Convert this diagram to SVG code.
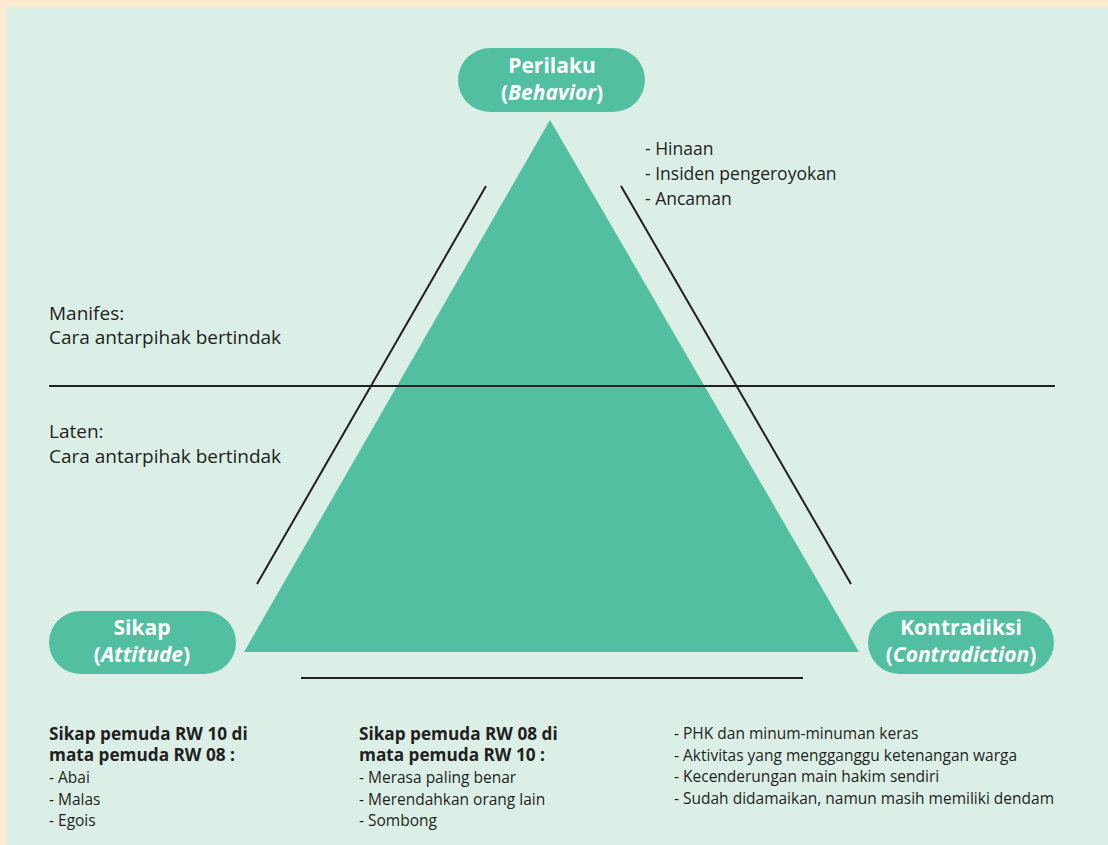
<svg xmlns="http://www.w3.org/2000/svg" width="1108" height="845" viewBox="0 0 1108 845">
<style>
.pill{fill:#52C0A0}
.pt{font-family:"Open Sans","Noto Sans",sans-serif;font-weight:bold;font-size:21px;fill:#fff;text-anchor:middle}
.t{font-family:"Open Sans","Noto Sans",sans-serif;font-size:15.5px;fill:#231F20}
.tr{font-family:"Open Sans","Noto Sans",sans-serif;font-size:17.5px;fill:#231F20}
.tb{font-family:"Open Sans","Noto Sans",sans-serif;font-size:17.2px;font-weight:bold;fill:#231F20}
.big{font-family:"Open Sans","Noto Sans",sans-serif;font-size:19px;fill:#231F20}
.ln{stroke:#231F20;stroke-width:2;fill:none}
</style>
<rect x="0" y="0" width="1108" height="845" fill="#FFEBD1"/>
<rect x="6" y="7" width="1102" height="838" fill="#DBEFE6"/>
<polygon points="550,120 244,652 859,652" fill="#52C0A0"/>
<g id="connectors">
<line class="ln" x1="486" y1="186" x2="257" y2="584"/>
<line class="ln" x1="621" y1="186" x2="851" y2="584"/>
<line class="ln" x1="49" y1="386" x2="1055" y2="386"/>
<line class="ln" x1="301" y1="678" x2="803" y2="678"/>
</g>
<g id="perilaku">
<rect class="pill" x="458" y="48" width="187" height="64" rx="32"/>
<text class="pt" x="552" y="73">Perilaku</text>
<text class="pt" x="552" y="100">(<tspan font-style="italic">Behavior</tspan>)</text>
</g>
<g id="sikap">
<rect class="pill" x="49" y="611" width="187" height="63" rx="31.5"/>
<text class="pt" x="142" y="635">Sikap</text>
<text class="pt" x="142" y="662">(<tspan font-style="italic">Attitude</tspan>)</text>
</g>
<g id="kontradiksi">
<rect class="pill" x="868" y="611" width="186" height="63" rx="31.5"/>
<text class="pt" x="961" y="635">Kontradiksi</text>
<text class="pt" x="961" y="662">(<tspan font-style="italic">Contradiction</tspan>)</text>
</g>
<g id="behavior-list">
<text class="tr" x="645" y="155">- Hinaan</text>
<text class="tr" x="645" y="180">- Insiden pengeroyokan</text>
<text class="tr" x="645" y="205">- Ancaman</text>
</g>
<g id="manifes">
<text class="big" x="49" y="320">Manifes:</text>
<text class="big" x="49" y="344">Cara antarpihak bertindak</text>
</g>
<g id="laten">
<text class="big" x="49" y="438">Laten:</text>
<text class="big" x="49" y="463">Cara antarpihak bertindak</text>
</g>
<g id="sikap-rw10">
<text class="tb" x="49" y="740">Sikap pemuda RW 10 di</text>
<text class="tb" x="49" y="761">mata pemuda RW 08 :</text>
<text class="t" x="49" y="783">- Abai</text>
<text class="t" x="49" y="805">- Malas</text>
<text class="t" x="49" y="826">- Egois</text>
</g>
<g id="sikap-rw08">
<text class="tb" x="359" y="740">Sikap pemuda RW 08 di</text>
<text class="tb" x="359" y="761">mata pemuda RW 10 :</text>
<text class="t" x="359" y="783">- Merasa paling benar</text>
<text class="t" x="359" y="805">- Merendahkan orang lain</text>
<text class="t" x="359" y="826">- Sombong</text>
</g>
<g id="kontradiksi-list">
<text class="t" x="674" y="739">- PHK dan minum-minuman keras</text>
<text class="t" x="674" y="761">- Aktivitas yang mengganggu ketenangan warga</text>
<text class="t" x="674" y="782">- Kecenderungan main hakim sendiri</text>
<text class="t" x="674" y="804">- Sudah didamaikan, namun masih memiliki dendam</text>
</g>
</svg>
